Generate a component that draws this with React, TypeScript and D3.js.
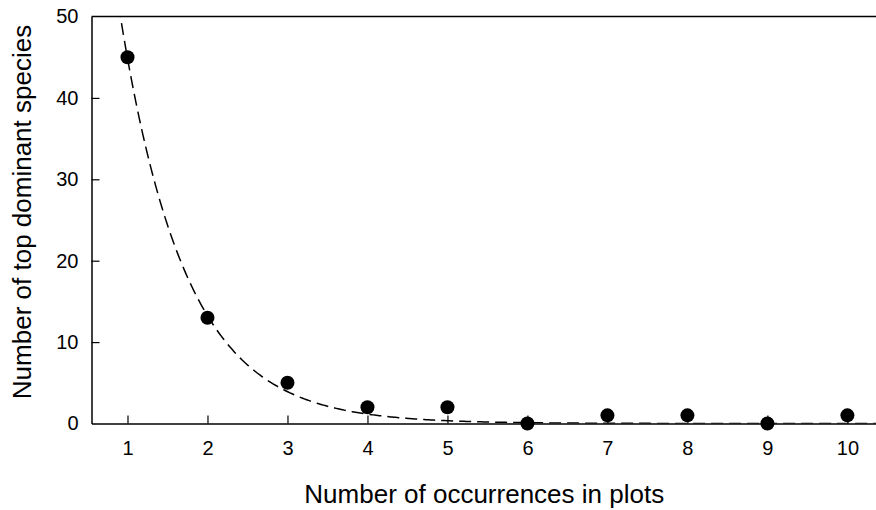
import React, { useRef, useEffect } from 'react';
import * as d3 from 'd3';

const occurrences = [1, 2, 3, 4, 5, 6, 7, 8, 9, 10];
const speciesCounts = [45, 13, 5, 2, 2, 0, 1, 1, 0, 1];
const xTicks = [1, 2, 3, 4, 5, 6, 7, 8, 9, 10];
const yTicks = [0, 10, 20, 30, 40, 50];
// exponential decay fit y = a * exp(-b * x)
const fitA = 152;
const fitB = 1.22;

function App() {
  const svgRef = useRef<SVGSVGElement>(null);

  useEffect(() => {
    if (!svgRef.current) return;
    const width = 876;
    const height = 510;
    const left = 91.5;
    const right = 877;
    const top = 16.5;
    const bottom = 423.5;
    const font = 'Liberation Sans, Arial, sans-serif';

    const svg = d3.select(svgRef.current);
    svg.selectAll('*').remove();
    svg.attr('width', width).attr('height', height);

    const x = d3.scaleLinear().domain([0.55, 10.37]).range([left, right]);
    const y = d3.scaleLinear().domain([0, 50]).range([bottom, top]);

    svg.append('defs').append('clipPath').attr('id', 'plot')
      .append('rect').attr('x', left).attr('y', top)
      .attr('width', right - left).attr('height', bottom - top);

    // fitted curve
    const xs = d3.range(0.55, 10.4, 0.02);
    const line = d3.line<number>().x(d => x(d)).y(d => y(fitA * Math.exp(-fitB * d)));
    svg.append('path')
      .datum(xs)
      .attr('clip-path', 'url(#plot)')
      .attr('d', line)
      .attr('fill', 'none')
      .attr('stroke', '#000')
      .attr('stroke-width', 1.5)
      .attr('stroke-dasharray', '12,6');

    // axes
    const xAxis = svg.append('g').attr('transform', `translate(0,${bottom})`)
      .call(d3.axisBottom(x).tickValues(xTicks).tickSizeInner(-8).tickSizeOuter(0).tickPadding(17));
    const yAxis = svg.append('g').attr('transform', `translate(${left},0)`)
      .call(d3.axisLeft(y).tickValues(yTicks).tickSizeInner(-8).tickSizeOuter(0).tickPadding(13));
    [xAxis, yAxis].forEach(g => {
      g.select('.domain').attr('stroke', '#000').attr('stroke-width', 1.5);
      g.selectAll('.tick line').attr('stroke', '#000').attr('stroke-width', 1.2);
      g.selectAll('.tick text').attr('font-family', font).attr('font-size', 20).attr('fill', '#000');
    });
    yAxis.selectAll('.tick').filter((d: any) => d === 0 || d === 50).select('line').remove();

    // top border
    svg.append('line')
      .attr('x1', left).attr('x2', right).attr('y1', top).attr('y2', top)
      .attr('stroke', '#000').attr('stroke-width', 1.5);

    // points
    svg.append('g').selectAll('circle')
      .data(occurrences)
      .enter().append('circle')
      .attr('cx', d => x(d))
      .attr('cy', (d, i) => y(speciesCounts[i]))
      .attr('r', 7)
      .attr('fill', '#000');

    // titles
    svg.append('text')
      .attr('x', (left + right) / 2).attr('y', 503)
      .attr('text-anchor', 'middle')
      .attr('font-family', font).attr('font-size', 26)
      .text('Number of occurrences in plots');
    svg.append('text')
      .attr('transform', `translate(31,212) rotate(-90)`)
      .attr('text-anchor', 'middle')
      .attr('font-family', font).attr('font-size', 26)
      .text('Number of top dominant species');
  }, []);

  return (
    <svg ref={svgRef} style={{ position: 'absolute', left: 0, top: 0, background: '#fff' }} />
  );
}

export default App;
